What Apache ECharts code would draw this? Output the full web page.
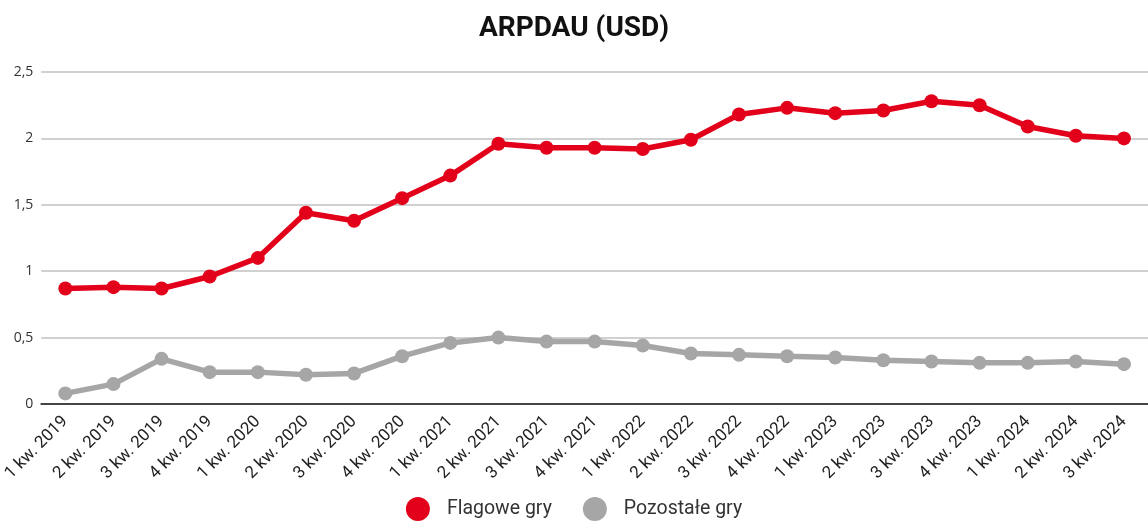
<!DOCTYPE html>
<html style="height: 100%">
  <head>
    <meta charset="utf-8" />
  </head>
  <body style="height: 100%; margin: 0; background: #fff">
    <div id="container" style="width: 1148px; height: 526px"></div>

    <script
      type="text/javascript"
      src="https://cdn.jsdelivr.net/npm/echarts@6/dist/echarts.min.js"
    ></script>

    <script type="text/javascript">
      var quarters = [
        "1 kw. 2019", "2 kw. 2019", "3 kw. 2019", "4 kw. 2019",
        "1 kw. 2020", "2 kw. 2020", "3 kw. 2020", "4 kw. 2020",
        "1 kw. 2021", "2 kw. 2021", "3 kw. 2021", "4 kw. 2021",
        "1 kw. 2022", "2 kw. 2022", "3 kw. 2022", "4 kw. 2022",
        "1 kw. 2023", "2 kw. 2023", "3 kw. 2023", "4 kw. 2023",
        "1 kw. 2024", "2 kw. 2024", "3 kw. 2024"
      ];
      var flagowe = [
        0.87, 0.88, 0.87, 0.96, 1.1, 1.44, 1.38, 1.55, 1.72, 1.96, 1.93, 1.93,
        1.92, 1.99, 2.18, 2.23, 2.19, 2.21, 2.28, 2.25, 2.09, 2.02, 2.0
      ];
      var pozostale = [
        0.08, 0.15, 0.34, 0.24, 0.24, 0.22, 0.23, 0.36, 0.46, 0.5, 0.47, 0.47,
        0.44, 0.38, 0.37, 0.36, 0.35, 0.33, 0.32, 0.31, 0.31, 0.32, 0.3
      ];
      var yTicks = { min: 0, max: 2.5, step: 0.5 };

      var dom = document.getElementById("container");
      var myChart = echarts.init(dom);

      var option = {
        backgroundColor: "#fff",
        title: {
          text: "ARPDAU (USD)",
          left: "center",
          top: 10,
          textStyle: {
            fontFamily: "Roboto",
            fontWeight: "bold",
            fontSize: 28,
            color: "#111"
          }
        },
        legend: {
          bottom: 0,
          left: "center",
          itemGap: 31,
          itemWidth: 24,
          itemHeight: 24,
          icon: "circle",
          textStyle: {
            fontFamily: "Roboto",
            fontSize: 19.5,
            color: "#333",
            padding: [0, 0, 0, 12]
          },
          data: ["Flagowe gry", "Pozostałe gry"]
        },
        grid: {
          left: 40,
          top: 72,
          width: 1111,
          bottom: 122
        },
        xAxis: {
          type: "category",
          data: quarters,
          boundaryGap: true,
          axisLine: { lineStyle: { color: "#444", width: 2 } },
          axisTick: { show: false },
          axisLabel: {
            rotate: 45,
            interval: 0,
            margin: 15,
            fontFamily: "Roboto",
            fontSize: 17,
            color: "#222"
          }
        },
        yAxis: {
          type: "value",
          min: yTicks.min,
          max: yTicks.max,
          interval: yTicks.step,
          axisLine: { show: false },
          axisTick: { show: false },
          splitLine: { lineStyle: { color: "#d0d0d0", width: 2 } },
          axisLabel: {
            margin: 8,
            fontFamily: "Open Sans",
            fontSize: 14,
            color: "#333",
            formatter: function (v) {
              return String(v).replace(".", ",");
            }
          }
        },
        series: [
          {
            name: "Flagowe gry",
            type: "line",
            data: flagowe,
            symbol: "circle",
            symbolSize: 14,
            color: "#e2001a",
            lineStyle: { width: 5.5 },
            z: 3
          },
          {
            name: "Pozostałe gry",
            type: "line",
            data: pozostale,
            symbol: "circle",
            symbolSize: 14,
            color: "#a6a6a6",
            lineStyle: { width: 5.5 },
            z: 2
          }
        ]
      };

      option && myChart.setOption(option);
    </script>
  </body>
</html>
